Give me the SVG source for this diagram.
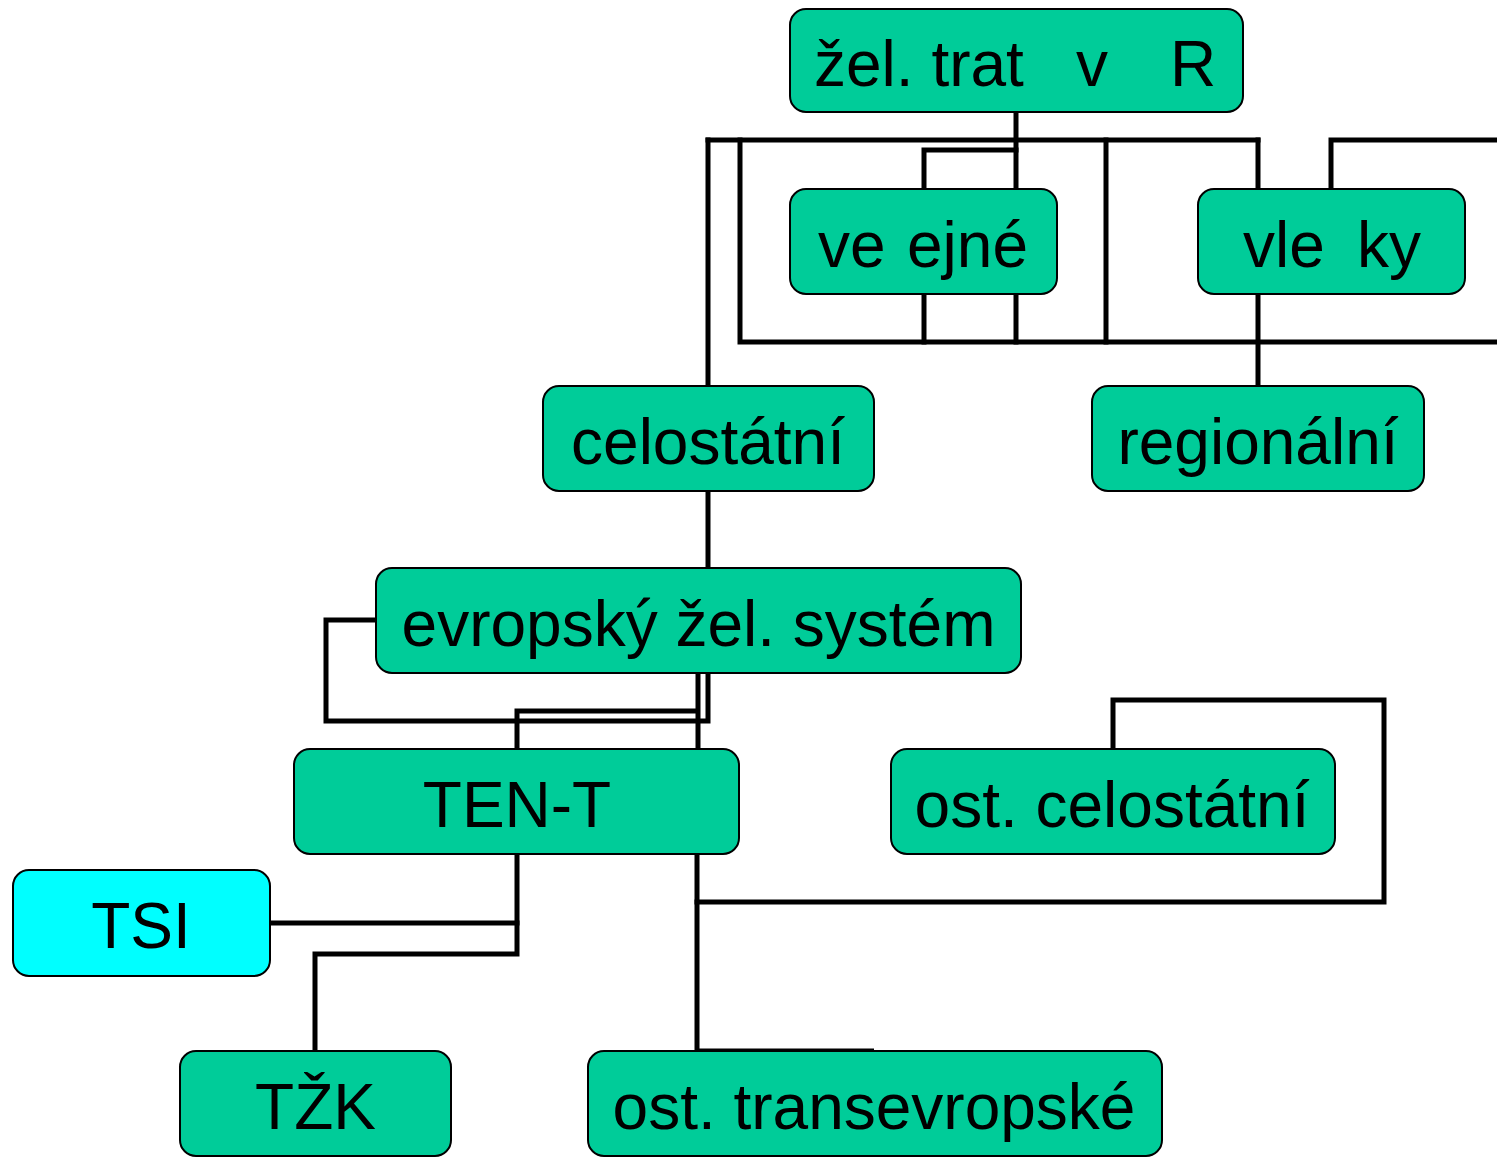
<svg xmlns="http://www.w3.org/2000/svg" width="1497" height="1157" viewBox="0 0 1497 1157">
<style>
.box{fill:#00CC99;stroke:#000;stroke-width:2}
.cyan{fill:#00FFFF;stroke:#000;stroke-width:2}
.lbl{font-family:"Liberation Sans",Arial,sans-serif;font-size:64px;fill:#000}
.c{text-anchor:middle}
.ln{fill:none;stroke:#000;stroke-width:5;stroke-linejoin:miter;stroke-linecap:square}
.thin{fill:none;stroke:#000;stroke-width:3}
</style>
<rect width="1497" height="1157" fill="#fff"/>
<g id="connectors">
<path class="ln" d="M1016,112 V189"/>
<path class="ln" d="M708,140 H1258"/>
<path class="ln" d="M708,140 V386"/>
<path class="ln" d="M740,140 V342 H1500"/>
<path class="ln" d="M1016,150 H924 V189"/>
<path class="ln" d="M924,294 V342 M1016,294 V342"/>
<path class="ln" d="M1106,140 V342"/>
<path class="ln" d="M1258,140 V189 M1258,294 V386"/>
<path class="ln" d="M1331,189 V140 H1500"/>
<path class="ln" d="M708,491 V568"/>
<path class="ln" d="M376,620 H326 V721 H708 V673"/>
<path class="ln" d="M698,673 V749 M698,711 H517 V749"/>
<path class="ln" d="M517,854 V954 H315 V1051"/>
<path class="ln" d="M270,923 H517"/>
<path class="ln" d="M697,854 V1051"/>
<path class="ln" d="M697,902 H1384 V700 H1113 V749"/>
<path class="thin" d="M697,1050 H874"/>
</g>
<g id="n-zel-trat">
<rect class="box" x="790" y="9" width="453" height="103" rx="16"/>
<text class="lbl" y="86"><tspan x="814">žel. trat</tspan><tspan x="1076">v</tspan><tspan x="1170">R</tspan></text>
</g>
<g id="n-verejne">
<rect class="box" x="790" y="189" width="267" height="105" rx="16"/>
<text class="lbl" y="267"><tspan x="818">ve</tspan><tspan x="907">ejné</tspan></text>
</g>
<g id="n-vlecky">
<rect class="box" x="1198" y="189" width="267" height="105" rx="16"/>
<text class="lbl" y="267"><tspan x="1243">vle</tspan><tspan x="1357">ky</tspan></text>
</g>
<g id="n-celostatni">
<rect class="box" x="543" y="386" width="331" height="105" rx="16"/>
<text class="lbl c" x="708" y="464">celostátní</text>
</g>
<g id="n-regionalni">
<rect class="box" x="1092" y="386" width="332" height="105" rx="16"/>
<text class="lbl c" x="1258" y="464">regionální</text>
</g>
<g id="n-evropsky">
<rect class="box" x="376" y="568" width="645" height="105" rx="16"/>
<text class="lbl c" x="698.5" y="646">evropský žel. systém</text>
</g>
<g id="n-tent">
<rect class="box" x="294" y="749" width="445" height="105" rx="16"/>
<text class="lbl c" x="517" y="827">TEN-T</text>
</g>
<g id="n-ost-celostatni">
<rect class="box" x="891" y="749" width="444" height="105" rx="16"/>
<text class="lbl c" x="1112" y="827">ost. celostátní</text>
</g>
<g id="n-tsi">
<rect class="cyan" x="13" y="870" width="257" height="106" rx="16"/>
<text class="lbl c" x="141" y="948">TSI</text>
</g>
<g id="n-tzk">
<rect class="box" x="180" y="1051" width="271" height="105" rx="16"/>
<text class="lbl c" x="315.5" y="1129">TŽK</text>
</g>
<g id="n-ost-trans">
<rect class="box" x="588" y="1051" width="574" height="105" rx="16"/>
<text class="lbl c" x="874" y="1129">ost. transevropské</text>
</g>
</svg>
